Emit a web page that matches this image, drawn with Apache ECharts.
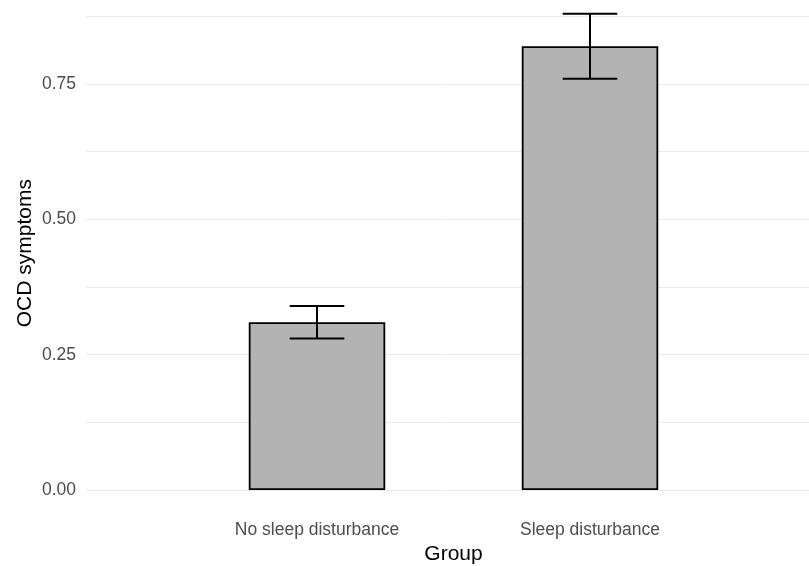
<!DOCTYPE html>
<html>
<head>
<meta charset="utf-8">
<script src="https://cdn.jsdelivr.net/npm/echarts@6/dist/echarts.min.js"></script>
<style>
  html, body { margin: 0; padding: 0; background: #fff; }
  #chart { width: 809px; height: 566px; }
</style>
</head>
<body>
<div id="chart"></div>
<script>
var groups = ['No sleep disturbance', 'Sleep disturbance'];
var means = [0.31, 0.82];
var lower = [0.28, 0.76];
var upper = [0.34, 0.88];
var majorTicks = ['0.00', '0.25', '0.50', '0.75'];

var font = 'Liberation Sans, Arial, Helvetica, sans-serif';
var chart = echarts.init(document.getElementById('chart'));

var yMax = 0.875;
var gridTop = 16.4, gridBottom = 76;

chart.setOption({
  animation: false,
  backgroundColor: '#ffffff',
  grid: [
    { left: 86, right: 0, top: gridTop, bottom: gridBottom, outerBoundsMode: 'none', containLabel: false },
    { left: 180.5, width: 546, top: gridTop, bottom: gridBottom, outerBoundsMode: 'none', containLabel: false }
  ],
  xAxis: [
    { type: 'value', gridIndex: 0, show: false, min: 0, max: 1 },
    {
      type: 'category', gridIndex: 1, data: groups,
      axisLine: { show: false }, axisTick: { show: false },
      axisLabel: { color: '#4d4d4d', fontSize: 17.5, fontFamily: font, margin: 31 },
      name: 'Group', nameLocation: 'middle', nameGap: 52,
      nameTextStyle: { color: '#000', fontSize: 21, fontFamily: font }
    }
  ],
  yAxis: [
    {
      type: 'value', gridIndex: 0, min: 0, max: yMax, interval: 0.125,
      axisLine: { show: false }, axisTick: { show: false },
      axisLabel: {
        color: '#4d4d4d', fontSize: 17.5, fontFamily: font, margin: 10,
        formatter: function (v) {
          var i = Math.round(v / 0.25);
          return Math.abs(v - i * 0.25) < 1e-6 ? majorTicks[i] : '';
        }
      },
      splitLine: { lineStyle: { color: '#ebebeb', width: 1 } },
      name: 'OCD symptoms', nameLocation: 'middle', nameGap: 50, nameRotate: 90,
      nameMoveOverlap: false,
      nameTextStyle: { color: '#000', fontSize: 21, fontFamily: font }
    },
    {
      type: 'value', gridIndex: 1, min: 0, max: yMax, interval: 0.125, show: false,
      splitLine: { show: false }
    }
  ],
  series: [
    {
      type: 'bar', xAxisIndex: 1, yAxisIndex: 1, data: means, barWidth: '50%',
      itemStyle: { color: '#b3b3b3', borderColor: '#000', borderWidth: 1.8 }
    },
    {
      type: 'custom', xAxisIndex: 1, yAxisIndex: 1, z: 5,
      data: groups.map(function (g, i) { return [i, lower[i], upper[i]]; }),
      renderItem: function (params, api) {
        var lo = api.coord([api.value(0), api.value(1)]);
        var hi = api.coord([api.value(0), api.value(2)]);
        var half = api.size([1, 0])[0] * 0.1;
        var st = { stroke: '#000', lineWidth: 2 };
        return {
          type: 'group',
          children: [
            { type: 'line', shape: { x1: hi[0], y1: hi[1], x2: lo[0], y2: lo[1] }, style: st },
            { type: 'line', shape: { x1: hi[0] - half, y1: hi[1], x2: hi[0] + half, y2: hi[1] }, style: st },
            { type: 'line', shape: { x1: lo[0] - half, y1: lo[1], x2: lo[0] + half, y2: lo[1] }, style: st }
          ]
        };
      }
    }
  ]
});
</script>
</body>
</html>
